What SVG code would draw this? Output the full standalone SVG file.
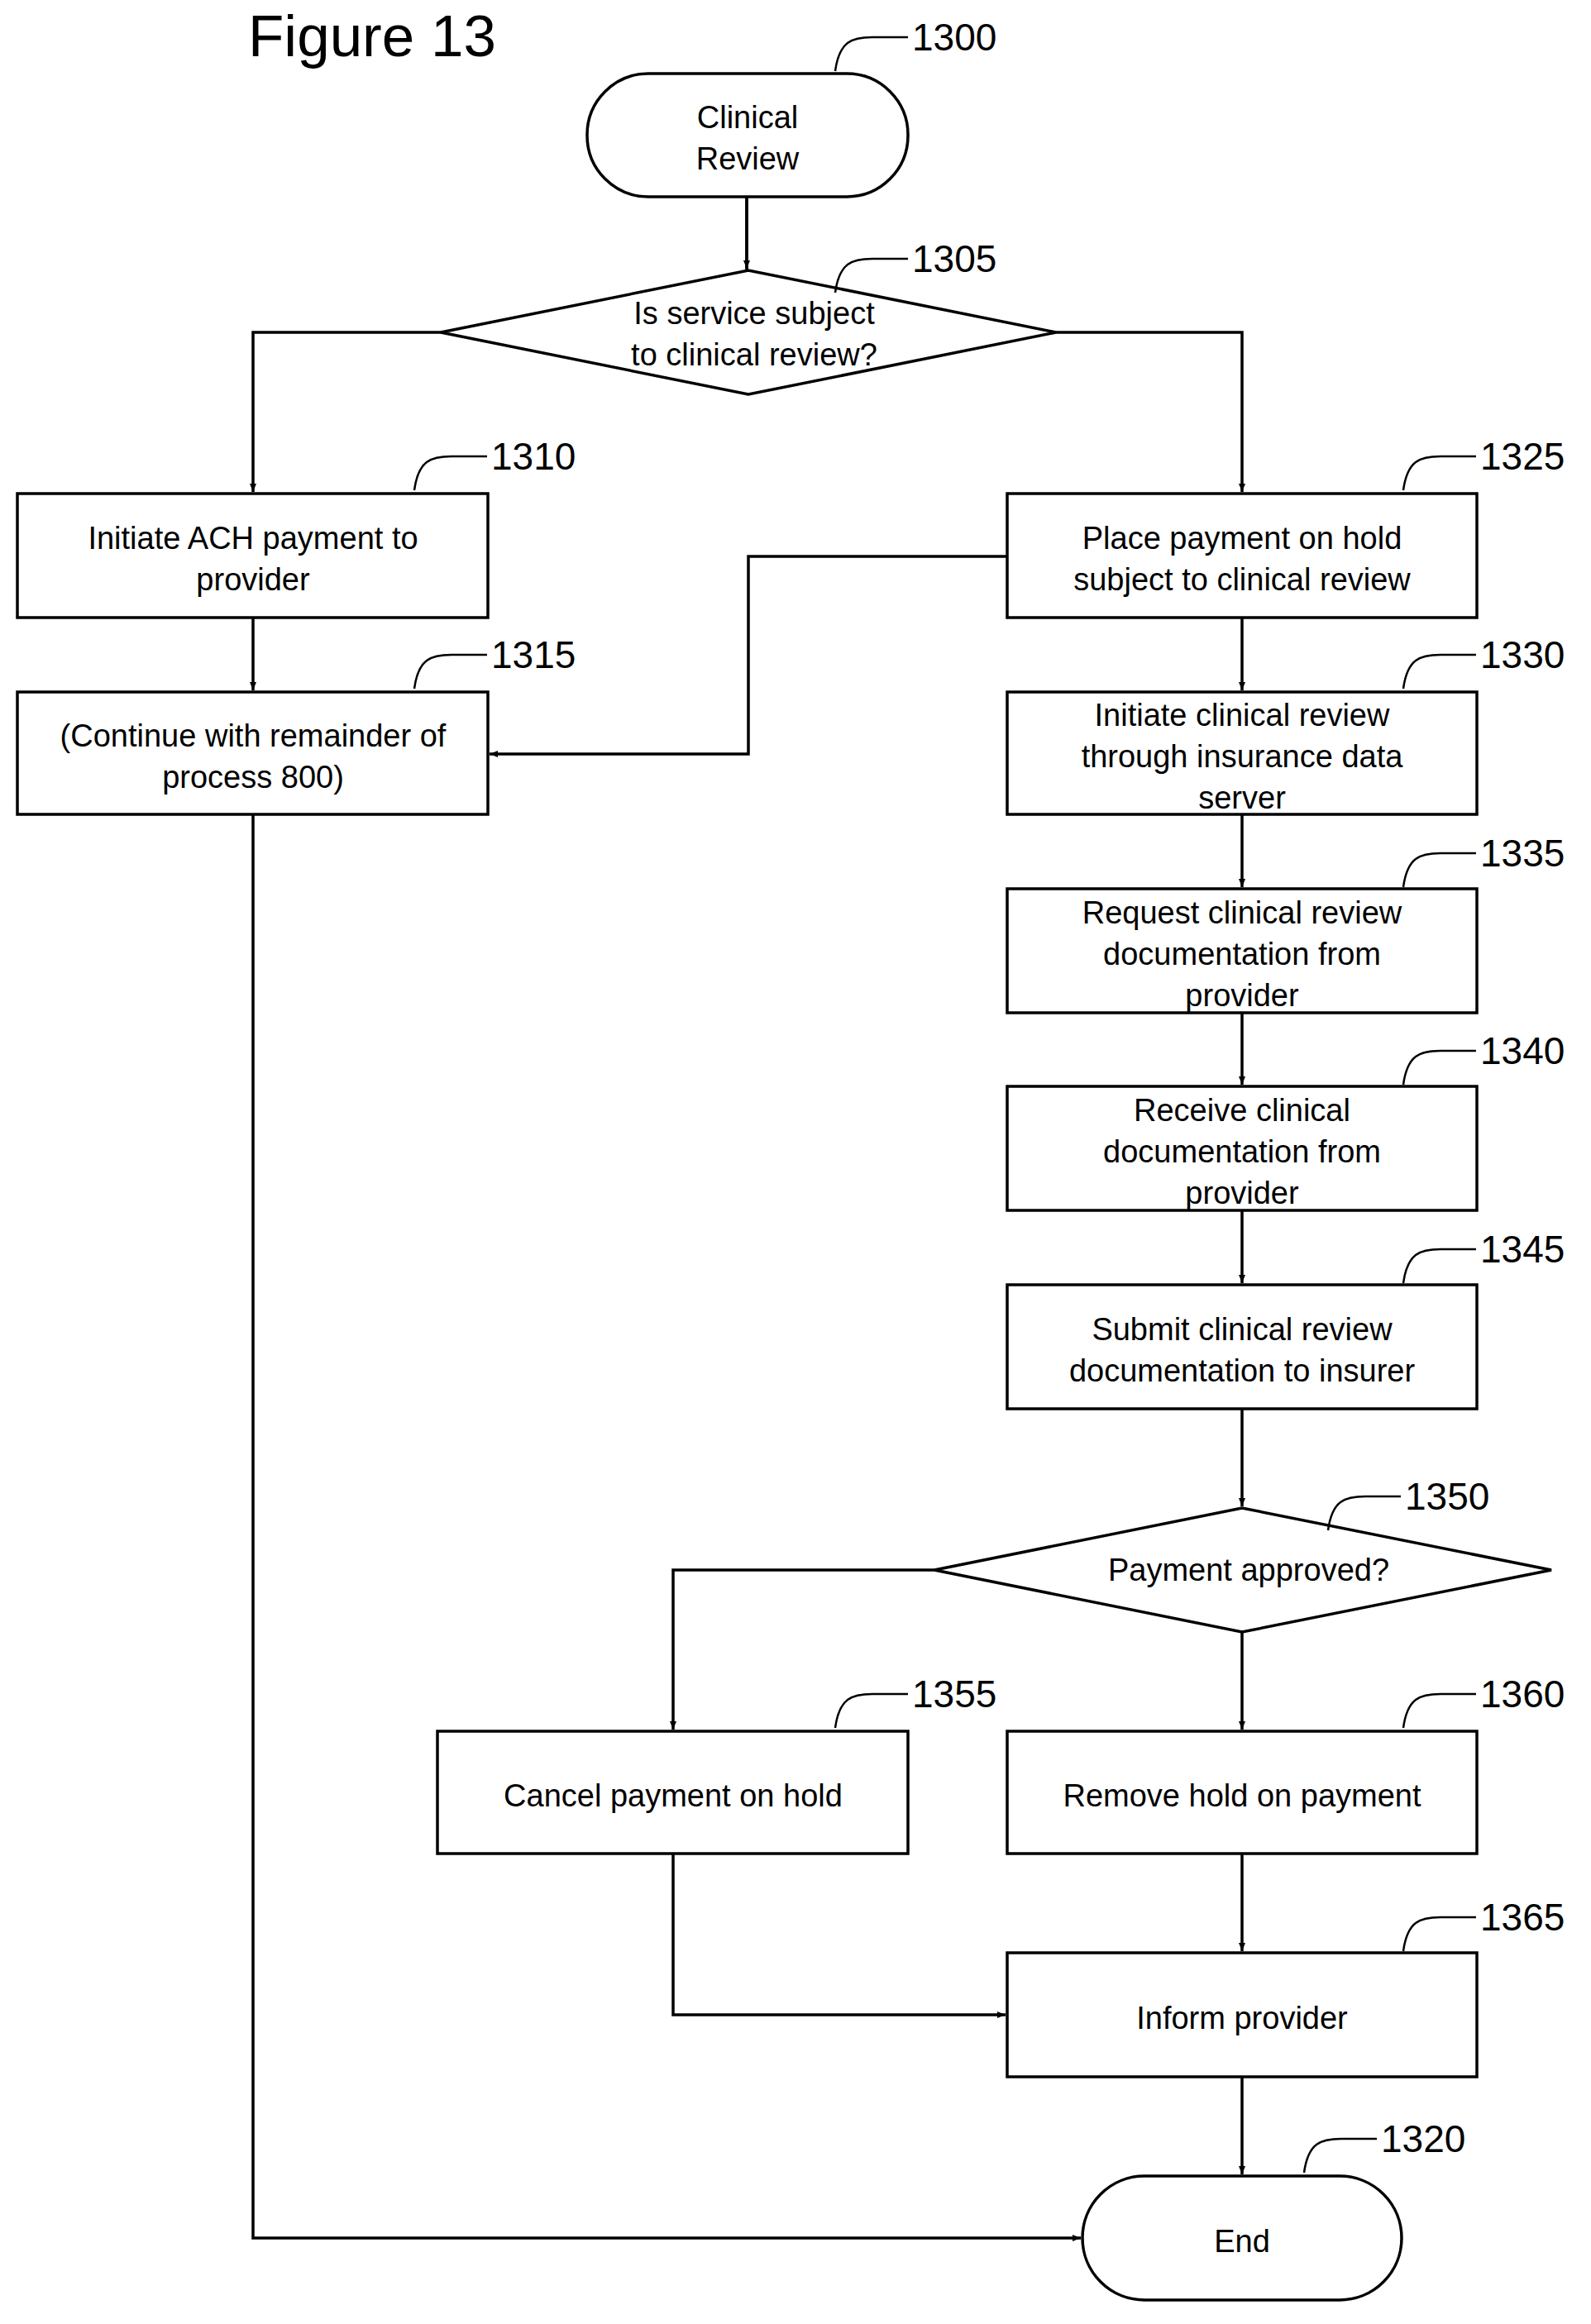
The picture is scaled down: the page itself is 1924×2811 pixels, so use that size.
<svg xmlns="http://www.w3.org/2000/svg" width="1924" height="2811" viewBox="0 0 1924 2811">
<defs>
<marker id="ah" markerWidth="10" markerHeight="8" refX="10" refY="4" orient="auto" markerUnits="userSpaceOnUse" viewBox="0 0 10 8" preserveAspectRatio="none">
<path d="M0,0 L10,4 L0,8 z" fill="#000"/>
</marker>
<style>
.s{fill:#fff;stroke:#000;stroke-width:3.5}
.t{font-family:"Liberation Sans",Arial,sans-serif;font-size:38px;text-anchor:middle;fill:#000}
.n{font-family:"Liberation Sans",Arial,sans-serif;font-size:46px;fill:#000}
.l{fill:none;stroke:#000;stroke-width:2.5}
.c{fill:none;stroke:#000;stroke-width:3.5;marker-end:url(#ah)}
</style>
</defs>
<rect width="1924" height="2811" fill="#fff"/>
<text x="300" y="68" font-family="Liberation Sans,Arial,sans-serif" font-size="71" fill="#000">Figure 13</text>
<g id="connectors">
<path class="c" d="M903,238 V327" style="marker-end:none"/>
<path d="M903,238 V325" class="c"/>
<path class="c" d="M533,402 H306 V595"/>
<path class="c" d="M1277,402 H1502 V595"/>
<path class="c" d="M306,747 V835"/>
<path class="c" d="M1218,673 H905 V912 H592"/>
<path class="c" d="M1502,747 V835"/>
<path class="c" d="M1502,985 V1073"/>
<path class="c" d="M1502,1225 V1312"/>
<path class="c" d="M1502,1464 V1552"/>
<path class="c" d="M1502,1704 V1822"/>
<path class="c" d="M1130,1899 H814 V2092"/>
<path class="c" d="M1502,1974 V2092"/>
<path class="c" d="M1502,2242 V2360"/>
<path class="c" d="M814,2242 V2437 H1216"/>
<path class="c" d="M1502,2512 V2630"/>
<path class="c" d="M306,985 V2707 H1307"/>
</g>
<g id="n1300"><rect class="s" x="710" y="89" width="388" height="149" rx="74"/><text class="t" x="904" y="155">Clinical</text><text class="t" x="904" y="205">Review</text></g>
<g id="n1305"><polygon class="s" points="533,402 905,327 1277,402 905,477"/><text class="t" x="912" y="392">Is service subject</text><text class="t" x="912" y="442">to clinical review?</text></g>
<g id="n1310"><rect class="s" x="21" y="597" width="569" height="150"/><text class="t" x="306" y="664">Initiate ACH payment to</text><text class="t" x="306" y="714">provider</text></g>
<g id="n1315"><rect class="s" x="21" y="837" width="569" height="148"/><text class="t" x="306" y="903">(Continue with remainder of</text><text class="t" x="306" y="953">process 800)</text></g>
<g id="n1325"><rect class="s" x="1218" y="597" width="568" height="150"/><text class="t" x="1502" y="664">Place payment on hold</text><text class="t" x="1502" y="714">subject to clinical review</text></g>
<g id="n1330"><rect class="s" x="1218" y="837" width="568" height="148"/><text class="t" x="1502" y="878">Initiate clinical review</text><text class="t" x="1502" y="928">through insurance data</text><text class="t" x="1502" y="978">server</text></g>
<g id="n1335"><rect class="s" x="1218" y="1075" width="568" height="150"/><text class="t" x="1502" y="1117">Request clinical review</text><text class="t" x="1502" y="1167">documentation from</text><text class="t" x="1502" y="1217">provider</text></g>
<g id="n1340"><rect class="s" x="1218" y="1314" width="568" height="150"/><text class="t" x="1502" y="1356">Receive clinical</text><text class="t" x="1502" y="1406">documentation from</text><text class="t" x="1502" y="1456">provider</text></g>
<g id="n1345"><rect class="s" x="1218" y="1554" width="568" height="150"/><text class="t" x="1502" y="1621">Submit clinical review</text><text class="t" x="1502" y="1671">documentation to insurer</text></g>
<g id="n1350"><polygon class="s" points="1130,1899 1502,1824 1876,1899 1502,1974"/><text class="t" x="1510" y="1912">Payment approved?</text></g>
<g id="n1355"><rect class="s" x="529" y="2094" width="569" height="148"/><text class="t" x="814" y="2185">Cancel payment on hold</text></g>
<g id="n1360"><rect class="s" x="1218" y="2094" width="568" height="148"/><text class="t" x="1502" y="2185">Remove hold on payment</text></g>
<g id="n1365"><rect class="s" x="1218" y="2362" width="568" height="150"/><text class="t" x="1502" y="2454">Inform provider</text></g>
<g id="n1320"><rect class="s" x="1309" y="2632" width="386" height="150" rx="75"/><text class="t" x="1502" y="2724">End</text></g>
<g id="labels">
<path class="l" d="M1010,86 C1015,50 1030,45 1055,45 L1098,45"/><text class="n" x="1103" y="61">1300</text>
<path class="l" d="M1010,354 C1015,318 1030,313 1055,313 L1098,313"/><text class="n" x="1103" y="329">1305</text>
<path class="l" d="M501,593 C506,557 521,552 546,552 L589,552"/><text class="n" x="594" y="568">1310</text>
<path class="l" d="M1697,593 C1702,557 1717,552 1742,552 L1785,552"/><text class="n" x="1790" y="568">1325</text>
<path class="l" d="M501,833 C506,797 521,792 546,792 L589,792"/><text class="n" x="594" y="808">1315</text>
<path class="l" d="M1697,833 C1702,797 1717,792 1742,792 L1785,792"/><text class="n" x="1790" y="808">1330</text>
<path class="l" d="M1697,1073 C1702,1037 1717,1032 1742,1032 L1785,1032"/><text class="n" x="1790" y="1048">1335</text>
<path class="l" d="M1697,1312 C1702,1276 1717,1271 1742,1271 L1785,1271"/><text class="n" x="1790" y="1287">1340</text>
<path class="l" d="M1697,1552 C1702,1516 1717,1511 1742,1511 L1785,1511"/><text class="n" x="1790" y="1527">1345</text>
<path class="l" d="M1606,1851 C1611,1815 1626,1810 1651,1810 L1694,1810"/><text class="n" x="1699" y="1826">1350</text>
<path class="l" d="M1010,2090 C1015,2054 1030,2049 1055,2049 L1098,2049"/><text class="n" x="1103" y="2065">1355</text>
<path class="l" d="M1697,2090 C1702,2054 1717,2049 1742,2049 L1785,2049"/><text class="n" x="1790" y="2065">1360</text>
<path class="l" d="M1697,2360 C1702,2324 1717,2319 1742,2319 L1785,2319"/><text class="n" x="1790" y="2335">1365</text>
<path class="l" d="M1577,2628 C1582,2592 1597,2587 1622,2587 L1665,2587"/><text class="n" x="1670" y="2603">1320</text>
</g>
</svg>
